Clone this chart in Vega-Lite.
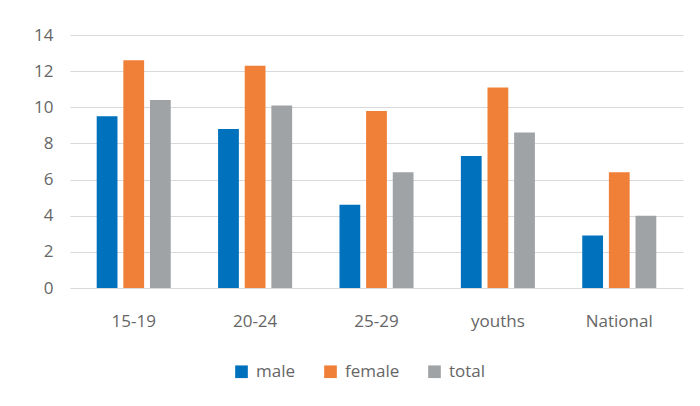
{
  "$schema": "https://vega.github.io/schema/vega-lite/v6.json",
  "width": 613,
  "height": 253,
  "autosize": {"type": "none"},
  "padding": {"left": 70, "top": 35, "right": 17, "bottom": 118},
  "background": "white",
  "data": {
    "values": [
      {"group": "15-19", "series": "male", "value": 9.5},
      {"group": "15-19", "series": "female", "value": 12.6},
      {"group": "15-19", "series": "total", "value": 10.4},
      {"group": "20-24", "series": "male", "value": 8.8},
      {"group": "20-24", "series": "female", "value": 12.3},
      {"group": "20-24", "series": "total", "value": 10.1},
      {"group": "25-29", "series": "male", "value": 4.6},
      {"group": "25-29", "series": "female", "value": 9.8},
      {"group": "25-29", "series": "total", "value": 6.4},
      {"group": "youths", "series": "male", "value": 7.3},
      {"group": "youths", "series": "female", "value": 11.1},
      {"group": "youths", "series": "total", "value": 8.6},
      {"group": "National", "series": "male", "value": 2.9},
      {"group": "National", "series": "female", "value": 6.4},
      {"group": "National", "series": "total", "value": 4.0}
    ]
  },
  "mark": {"type": "bar"},
  "encoding": {
    "x": {
      "field": "group", "type": "nominal", "sort": null,
      "scale": {"paddingInner": 0.39, "paddingOuter": 0.22},
      "axis": {"title": null, "labelAngle": 0, "domain": false, "ticks": false, "labelPadding": 25, "labelFontSize": 17, "labelColor": "#666666", "labelFont": "Open Sans"}
    },
    "xOffset": {"field": "series", "type": "nominal", "sort": ["male", "female", "total"], "scale": {"paddingInner": 0.22}},
    "y": {
      "field": "value", "type": "quantitative",
      "scale": {"domain": [0, 14]},
      "axis": {"title": null, "values": [0, 2, 4, 6, 8, 10, 12, 14], "domain": false, "ticks": false, "labelPadding": 17, "labelFontSize": 17, "labelColor": "#666666", "labelFont": "Open Sans", "gridColor": "#d9d9d9", "gridWidth": 1.2}
    },
    "color": {
      "field": "series", "type": "nominal", "sort": ["male", "female", "total"],
      "scale": {"domain": ["male", "female", "total"], "range": ["#0071bc", "#f07f37", "#a0a3a6"]},
      "legend": {"title": null, "orient": "none", "legendX": 163, "legendY": 328, "direction": "horizontal", "symbolType": "square", "symbolSize": 160, "symbolStrokeWidth": 0, "labelFontSize": 17, "labelColor": "#666666", "labelFont": "Open Sans", "columnPadding": 26, "labelOffset": 6}
    }
  },
  "config": {"view": {"stroke": null}}
}
